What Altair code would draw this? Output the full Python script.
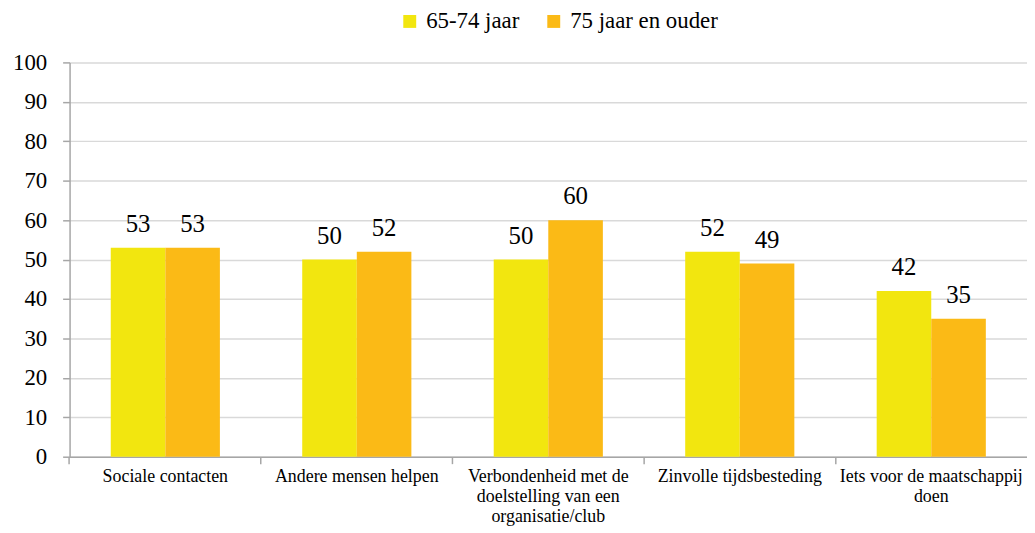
import altair as alt
import pandas as pd

categories = [
    "Sociale contacten",
    "Andere mensen helpen",
    "Verbondenheid met de|doelstelling van een|organisatie/club",
    "Zinvolle tijdsbesteding",
    "Iets voor de maatschappij|doen",
]
series = ["65-74 jaar", "75 jaar en ouder"]
values_65_74 = [53, 50, 50, 52, 42]
values_75_plus = [53, 52, 60, 49, 35]
colors = ["#F2E60F", "#FBBA16"]
y_ticks = [0, 10, 20, 30, 40, 50, 60, 70, 80, 90, 100]

rows = []
for c, v in zip(categories, values_65_74):
    rows.append({"cat": c, "groep": series[0], "waarde": v})
for c, v in zip(categories, values_75_plus):
    rows.append({"cat": c, "groep": series[1], "waarde": v})
df = pd.DataFrame(rows)

FONT = "Liberation Serif, Times New Roman, serif"

xscale = alt.Scale(domain=categories, paddingInner=0.43, paddingOuter=0.215)
off_scale = alt.Scale(domain=series, paddingInner=0, paddingOuter=0)
yscale = alt.Scale(domain=[0, 100], nice=False)
color_scale = alt.Scale(domain=series, range=colors)

y_axis = alt.Axis(values=y_ticks, tickSize=7, tickColor="#a6a6a6", tickWidth=1.5,
                  domainColor="#a6a6a6", domainWidth=1.5, labelPadding=16,
                  labelFont=FONT, labelFontSize=23, labelColor="#000000",
                  gridColor="#d9d9d9", gridWidth=1.5, title=None)

x_axis = alt.Axis(orient="bottom", labelAngle=0, ticks=True, bandPosition=-0.3772,
                  tickSize=7, tickColor="#a6a6a6", tickWidth=1.5,
                  labelPadding=4,
                  labelFont=FONT, labelFontSize=18, labelColor="#000000",
                  labelLineHeight=20, labelLimit=0, labelBaseline="top",
                  labelExpr="split(datum.label, '|')",
                  domainColor="#a6a6a6", domainWidth=1.5, grid=False, title=None)

base = alt.Chart(df)

bars = base.mark_bar().encode(
    x=alt.X("cat:N", scale=xscale, sort=categories, title=None, axis=x_axis),
    xOffset=alt.XOffset("groep:N", scale=off_scale, sort=series),
    y=alt.Y("waarde:Q", scale=yscale, title=None, axis=y_axis),
    color=alt.Color("groep:N", scale=color_scale, sort=series, title=None,
                    legend=alt.Legend(orient="none", direction="horizontal",
                                      legendX=331, legendY=-53,
                                      symbolType="square", symbolSize=169,
                                      symbolStrokeWidth=0, labelOffset=5,
                                      labelFont=FONT, labelFontSize=23, labelLimit=0,
                                      labelColor="#000000", columnPadding=23)),
)

labels = base.mark_text(font=FONT, fontSize=25, baseline="alphabetic", dy=-16,
                        color="#000000").encode(
    x=alt.X("cat:N", scale=xscale, sort=categories, title=None, axis=x_axis),
    xOffset=alt.XOffset("groep:N", scale=off_scale, sort=series),
    y=alt.Y("waarde:Q", scale=yscale, title=None, axis=y_axis),
    text=alt.Text("waarde:Q"),
)

chart = alt.layer(bars, labels).properties(
    width=964, height=397,
    autosize=alt.AutoSizeParams(type="none"),
    padding={"left": 62, "top": 53, "right": 0, "bottom": 70},
).configure(font=FONT).configure_view(stroke=None)

chart.save("out.html", embed_options={"renderer": "svg", "actions": False})
